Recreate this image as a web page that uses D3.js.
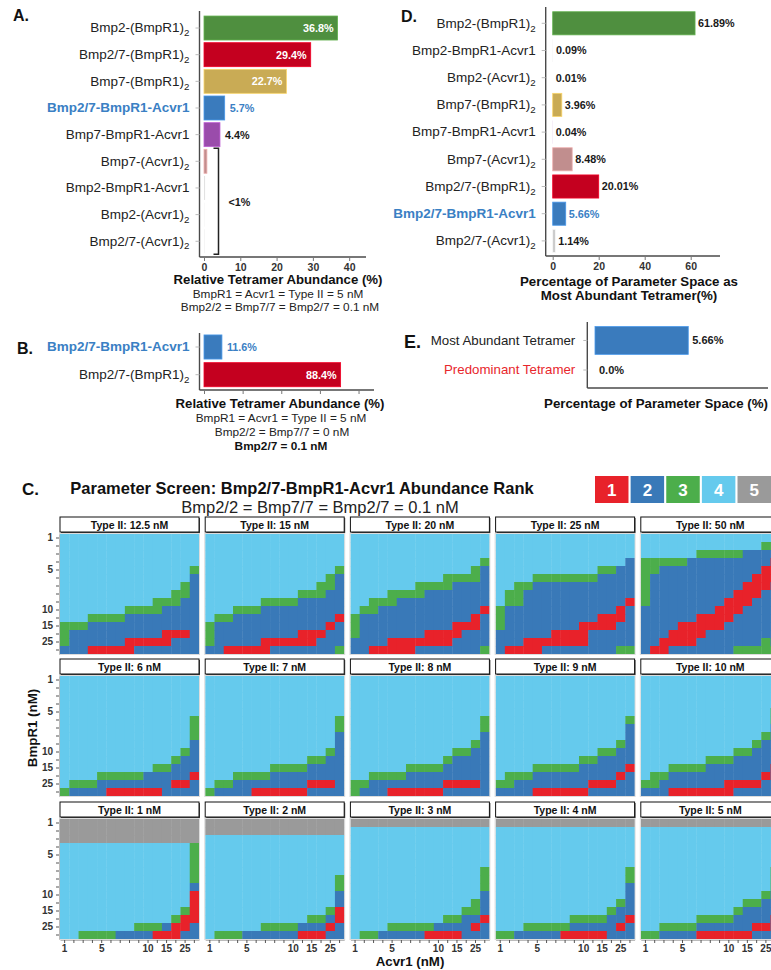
<!DOCTYPE html>
<html>
<head>
<meta charset="utf-8">
<script src="https://cdn.jsdelivr.net/npm/d3@7"></script>
<style>
  body { margin: 0; background: #fff; }
  svg { display: block; font-family: "Liberation Sans", Arial, Helvetica, sans-serif; }
</style>
</head>
<body>
<svg id="fig" width="771" height="970"></svg>
<script>
// ---------------- data ----------------
// Panel A: relative tetramer abundance (%), all ligands at 0.1 nM
const tetramersA = ["Bmp2-(BmpR1)_2", "Bmp2/7-(BmpR1)_2", "Bmp7-(BmpR1)_2", "Bmp2/7-BmpR1-Acvr1",
  "Bmp7-BmpR1-Acvr1", "Bmp7-(Acvr1)_2", "Bmp2-BmpR1-Acvr1", "Bmp2-(Acvr1)_2", "Bmp2/7-(Acvr1)_2"];
const abundanceA = [36.8, 29.4, 22.7, 5.7, 4.4, 0.8, 0.3, 0.1, 0.05];
const ticksA = [0, 10, 20, 30, 40];

// Panel B: only heterodimer present
const tetramersB = ["Bmp2/7-BmpR1-Acvr1", "Bmp2/7-(BmpR1)_2"];
const abundanceB = [11.6, 88.4];
const ticksB = [0, 25, 50, 75, 100];

// Panel D: share of parameter space where each tetramer is most abundant (%)
const tetramersD = ["Bmp2-(BmpR1)_2", "Bmp2-BmpR1-Acvr1", "Bmp2-(Acvr1)_2", "Bmp7-(BmpR1)_2",
  "Bmp7-BmpR1-Acvr1", "Bmp7-(Acvr1)_2", "Bmp2/7-(BmpR1)_2", "Bmp2/7-BmpR1-Acvr1", "Bmp2/7-(Acvr1)_2"];
const spaceD = [61.89, 0.09, 0.01, 3.96, 0.04, 8.48, 20.01, 5.66, 1.14];
const ticksD = [0, 20, 40, 60];

// Panel E
const categoriesE = ["Most Abundant Tetramer", "Predominant Tetramer"];
const spaceE = [5.66, 0.0];

// Panel C: abundance rank of Bmp2/7-BmpR1-Acvr1 over BmpR1 (rows) x Acvr1 (columns)
const levels = [1, 2, 3, 4, 5, 6, 7, 8, 9, 10, 12.5, 15, 20, 25, 50];
const levelTicks = [1, 5, 10, 15, 25];
const typeII = [12.5, 15, 20, 25, 50, 6, 7, 8, 9, 10, 1, 2, 3, 4, 5];
const ranks = [1, 2, 3, 4, 5];
const rankGrids = [
  [ // 12.5 nM
    "444444444444444","444444444444444","444444444444444","444444444444444","444444444444443",
    "444444444444442","444444444444432","444444444444332","444444444433322","444444433332222",
    "444333322222222","333222222222222","322222222221112","322222211111222","222111112222222"],
  [ // 15 nM
    "444444444444444","444444444444444","444444444444444","444444444444444","444444444444443",
    "444444444444432","444444444444332","444444444433322","444444333322222","444333222222222",
    "433222222222221","322222222222212","322222222211122","322222111111222","221111122222223"],
  [ // 20 nM
    "444444444444444","444444444444444","444444444444444","444444444444443","444444444444432",
    "444444444433332","444444433332222","444433332222222","443332222222222","433222222222221",
    "322222222222212","322222222221112","322222221111222","222211111112222","221111122222223"],
  [ // 25 nM
    "444444444444444","444444444444444","444444444444444","444444444444442","444444444443322",
    "444433333332222","443322222222222","433222222222222","433222222222221","322222222222212",
    "322222222221112","322222222111122","222222111122222","222111111122222","211112222222233"],
  [ // 50 nM
    "444444444444444","444444444444433","444444333332222","333332222222221","332222222222211",
    "322222222222111","322222222221112","322222222211122","322222222111222","222222221112222",
    "222222111122222","222211111222222","222111122222222","221111222222232","211222222233333"],
  [ // 6 nM
    "444444444444444","444444444444444","444444444444444","444444444444444","444444444444444",
    "444444444444443","444444444444443","444444444444443","444444444444442","444444444444432",
    "444444444444322","444444444433222","444433333222221","433322222222112","322221111112222"],
  [ // 7 nM
    "444444444444444","444444444444444","444444444444444","444444444444444","444444444444444",
    "444444444444443","444444444444443","444444444444442","444444444444442","444444444444432",
    "444444444443322","444444433332222","444333322222222","433222222221112","322221111112222"],
  [ // 8 nM
    "444444444444444","444444444444444","444444444444444","444444444444444","444444444444444",
    "444444444444443","444444444444443","444444444444442","444444444444432","444444444443322",
    "444444444432222","444444333322222","443333222222222","332222222211112","322211111122222"],
  [ // 9 nM
    "444444444444444","444444444444444","444444444444444","444444444444444","444444444444444",
    "444444444444443","444444444444442","444444444444442","444444444444432","444444444443322",
    "444444444332222","444433333222221","433322222222212","332222222211122","222211111122222"],
  [ // 10 nM
    "444444444444444","444444444444444","444444444444444","444444444444444","444444444444443",
    "444444444444443","444444444444442","444444444444432","444444444444322","444444444433222",
    "444444433322222","444333322222221","433222222222212","332222222111122","222111111122222"],
  [ // 1 nM
    "555555555555555","555555555555555","555555555555555","444444444444443","444444444444443",
    "444444444444443","444444444444443","444444444444443","444444444444442","444444444444441",
    "444444444444441","444444444444431","444444444444311","444444443332112","443333222211122"],
  [ // 2 nM
    "555555555555555","555555555555555","444444444444444","444444444444444","444444444444444",
    "444444444444444","444444444444444","444444444444443","444444444444443","444444444444442",
    "444444444444442","444444444444431","444444444443321","444444333322212","433322222211122"],
  [ // 3 nM
    "555555555555555","444444444444444","444444444444444","444444444444444","444444444444444",
    "444444444444444","444444444444443","444444444444443","444444444444443","444444444444442",
    "444444444444432","444444444444332","444444444433221","444433333222212","433222221111222"],
  [ // 4 nM
    "555555555555555","444444444444444","444444444444444","444444444444444","444444444444444",
    "444444444444444","444444444444443","444444444444443","444444444444442","444444444444442",
    "444444444444432","444444444444322","444444443333221","444333332222212","332222211111222"],
  [ // 5 nM
    "555555555555555","444444444444444","444444444444444","444444444444444","444444444444444",
    "444444444444444","444444444444443","444444444444443","444444444444443","444444444444432",
    "444444444443322","444444444432222","444444333322221","443333222222112","332222111111222"]
];

// ---------------- styles ----------------
const tetColor = {
  "Bmp2-(BmpR1)_2": "#4f8f3f", "Bmp2/7-(BmpR1)_2": "#c4001f", "Bmp7-(BmpR1)_2": "#c9ab55",
  "Bmp2/7-BmpR1-Acvr1": "#3a7bbd", "Bmp7-BmpR1-Acvr1": "#9a4cab", "Bmp7-(Acvr1)_2": "#c18e8e",
  "Bmp2-BmpR1-Acvr1": "#e2e2e2", "Bmp2-(Acvr1)_2": "#eeeeee", "Bmp2/7-(Acvr1)_2": "#c8c8c8"
};
const rankColor = { 1: "#e8222a", 2: "#3979b8", 3: "#4cae4b", 4: "#65caed", 5: "#9a9a9a" };
const focus = "Bmp2/7-BmpR1-Acvr1";
const focusBlue = "#3a80c4";
const axisGrey = "#4a4a4a";

const svg = d3.select("#fig");

// label with a trailing subscript written as "_2"
function nameText(sel, name) {
  const [main, sub] = name.split("_");
  sel.text(null);
  sel.append("tspan").text(main);
  if (sub) sel.append("tspan").attr("font-size", "0.72em").attr("dy", "0.4em").text(sub);
}

function panelLetter(txt, x, y, size) {
  svg.append("text").attr("x", x).attr("y", y).attr("font-size", size)
    .attr("font-weight", "bold").attr("fill", "#111").text(txt);
}

// generic horizontal bar panel
function barPanel(opt) {
  const g = svg.append("g");
  const x = d3.scaleLinear().domain(opt.xDomain).range(opt.xRange);
  const y = d3.scaleBand().domain(opt.names).range(opt.yRange)
    .paddingInner(opt.pad).paddingOuter(opt.pad / 2);

  // axis lines
  g.append("line").attr("x1", opt.axisX).attr("x2", opt.axisX)
    .attr("y1", opt.axisTop).attr("y2", opt.axisY)
    .attr("stroke", axisGrey).attr("stroke-width", 1.4);
  g.append("line").attr("x1", opt.axisX).attr("x2", opt.axisEnd)
    .attr("y1", opt.axisY).attr("y2", opt.axisY)
    .attr("stroke", axisGrey).attr("stroke-width", 1.4);

  // x ticks
  const xa = g.append("g").attr("transform", `translate(0,${opt.axisY})`)
    .call(d3.axisBottom(x).tickValues(opt.ticks).tickSize(4).tickSizeOuter(0)
      .tickFormat(opt.tickLabels ? d3.format("d") : () => ""));
  xa.select(".domain").remove();
  xa.selectAll(".tick line").attr("stroke", "#777");
  xa.selectAll(".tick text").attr("font-size", 10.5).attr("font-weight", "bold")
    .attr("fill", "#333").attr("font-family", null);

  // y labels
  const ya = g.append("g").attr("transform", `translate(${opt.axisX},0)`)
    .call(d3.axisLeft(y).tickSize(4).tickPadding(opt.labelPad || 6).tickSizeOuter(0));
  ya.select(".domain").remove();
  ya.selectAll(".tick line").attr("stroke", "#bbb");
  ya.selectAll(".tick text").attr("font-family", null)
    .attr("font-size", opt.labelSize || 13.5)
    .attr("fill", d => opt.labelColor ? opt.labelColor(d) : (d === focus ? focusBlue : "#222"))
    .attr("font-weight", d => (d === focus ? "bold" : "normal"))
    .each(function (d) { nameText(d3.select(this), d); });

  // bars (thin outline only where the bar is wide enough to carry it)
  const rows = opt.names.map((n, i) => ({ name: n, v: opt.values[i] }));
  g.selectAll("rect.bar").data(rows).join("rect").attr("class", "bar")
    .attr("x", x(0)).attr("y", d => y(d.name))
    .attr("width", d => Math.max(0, x(d.v) - x(0))).attr("height", y.bandwidth())
    .attr("fill", d => opt.color(d.name))
    .attr("stroke", d => (x(d.v) - x(0) > 2 ? d3.color(opt.color(d.name)).brighter(0.6) : "none"))
    .attr("stroke-width", 0.8);

  // value labels
  g.selectAll("text.val").data(rows.filter(opt.showLabel)).join("text").attr("class", "val")
    .attr("x", d => opt.inside(d) ? x(d.v) - 4 : x(d.v) + (opt.gap || 5))
    .attr("y", d => y(d.name) + y.bandwidth() / 2).attr("dy", "0.36em")
    .attr("text-anchor", d => opt.inside(d) ? "end" : "start")
    .attr("font-size", opt.valSize || 11).attr("font-weight", "bold")
    .attr("fill", d => opt.inside(d) ? "#fff" : (d.name === focus ? focusBlue : "#1a1a1a"))
    .text(d => opt.format(d.v));
  return { g, x, y };
}

// ---------------- Panel A ----------------
panelLetter("A.", 13, 21, 16);
const A = barPanel({
  names: tetramersA, values: abundanceA, xDomain: [0, 44], xRange: [204, 363.7],
  yRange: [14.7, 254.6], pad: 0.1, axisX: 199.5, axisTop: 11, axisY: 257, axisEnd: 366,
  ticks: ticksA, tickLabels: true, color: n => tetColor[n],
  showLabel: d => d.v >= 1, inside: d => d.v > 15, format: v => v.toFixed(1) + "%", valSize: 10.8
});
// bracket grouping the sub-1% tetramers
{
  const small = tetramersA.filter((n, i) => abundanceA[i] < 1);
  const top = A.y(small[0]) - 1, bot = A.y(small[small.length - 1]) + A.y.bandwidth() + 1;
  const bx = A.x(0) + 14.5;
  A.g.append("path").attr("d", `M${bx - 5},${top}H${bx}V${bot}H${bx - 5}`)
    .attr("fill", "none").attr("stroke", "#222").attr("stroke-width", 1.5);
  A.g.append("text").attr("x", bx + 10).attr("y", (top + bot) / 2 + 1).attr("dy", "0.36em")
    .attr("font-size", 10.8).attr("font-weight", "bold").attr("fill", "#1a1a1a").text("<1%");
}
svg.append("text").attr("x", 278).attr("y", 284).attr("text-anchor", "middle")
  .attr("font-size", 13.2).attr("font-weight", "bold").attr("fill", "#111")
  .text("Relative Tetramer Abundance  (%)");
svg.append("text").attr("x", 278).attr("y", 298).attr("text-anchor", "middle")
  .attr("font-size", 11.8).attr("fill", "#222").text("BmpR1  = Acvr1 = Type II = 5 nM");
svg.append("text").attr("x", 280).attr("y", 311).attr("text-anchor", "middle")
  .attr("font-size", 11.8).attr("fill", "#222").text("Bmp2/2 = Bmp7/7 = Bmp2/7 = 0.1 nM");

// ---------------- Panel D ----------------
panelLetter("D.", 401, 22, 16);
barPanel({
  names: tetramersD, values: spaceD, xDomain: [0, 73], xRange: [552.7, 720.6],
  yRange: [9.7, 254.5], pad: 0.15, axisX: 545.7, axisTop: 7, axisY: 256, axisEnd: 720,
  ticks: ticksD, tickLabels: true, color: n => tetColor[n],
  showLabel: () => true, inside: () => false, format: v => v.toFixed(2) + "%", gap: 3, valSize: 10.8
});
svg.append("text").attr("x", 629).attr("y", 286).attr("text-anchor", "middle")
  .attr("font-size", 13.3).attr("font-weight", "bold").attr("fill", "#111")
  .text("Percentage of Parameter Space as");
svg.append("text").attr("x", 629).attr("y", 300).attr("text-anchor", "middle")
  .attr("font-size", 13.3).attr("font-weight", "bold").attr("fill", "#111")
  .text("Most Abundant  Tetramer(%)");

// ---------------- Panel B ----------------
panelLetter("B.", 17, 354, 16);
barPanel({
  names: tetramersB, values: abundanceB, xDomain: [0, 110], xRange: [204, 374],
  yRange: [333.15, 388.55], pad: 0.13, axisX: 199.5, axisTop: 333, axisY: 390, axisEnd: 374,
  ticks: ticksB, tickLabels: false, color: n => tetColor[n],
  showLabel: () => true, inside: d => d.v > 50, format: v => v.toFixed(1) + "%", valSize: 10.8
});
svg.append("text").attr("x", 280).attr("y", 408).attr("text-anchor", "middle")
  .attr("font-size", 13.2).attr("font-weight", "bold").attr("fill", "#111")
  .text("Relative Tetramer Abundance  (%)");
svg.append("text").attr("x", 281).attr("y", 422).attr("text-anchor", "middle")
  .attr("font-size", 11.8).attr("fill", "#222").text("BmpR1  = Acvr1 = Type II = 5 nM");
svg.append("text").attr("x", 282).attr("y", 436).attr("text-anchor", "middle")
  .attr("font-size", 11.8).attr("fill", "#222").text("Bmp2/2 = Bmp7/7 = 0 nM");
svg.append("text").attr("x", 281).attr("y", 450).attr("text-anchor", "middle")
  .attr("font-size", 11.8).attr("font-weight", "bold").attr("fill", "#111").text("Bmp2/7 = 0.1 nM");

// ---------------- Panel E ----------------
panelLetter("E.", 404, 348, 18);
barPanel({
  names: categoriesE, values: spaceE, xDomain: [0, 10.5], xRange: [595, 768],
  yRange: [325.7, 384.8], pad: 0.06, axisX: 587.3, axisTop: 322, axisY: 388, axisEnd: 768,
  ticks: [], tickLabels: false, labelSize: 13.3, labelPad: 8,
  labelColor: d => (d === "Predominant Tetramer" ? "#e8262c" : "#222"),
  color: () => tetColor[focus],
  showLabel: () => true, inside: () => false,
  format: v => (v === 0 ? v.toFixed(1) : v.toFixed(2)) + "%", gap: 4, valSize: 11
});
svg.append("text").attr("x", 656).attr("y", 408).attr("text-anchor", "middle")
  .attr("font-size", 13.3).attr("font-weight", "bold").attr("fill", "#111")
  .text("Percentage of Parameter Space (%)");

// ---------------- Panel C ----------------
panelLetter("C.", 22, 495, 17);
svg.append("text").attr("x", 302).attr("y", 494).attr("text-anchor", "middle")
  .attr("font-size", 16.5).attr("font-weight", "bold").attr("fill", "#111")
  .text("Parameter Screen: Bmp2/7-BmpR1-Acvr1 Abundance Rank");
svg.append("text").attr("x", 320).attr("y", 513).attr("text-anchor", "middle")
  .attr("font-size", 16.5).attr("fill", "#222").text("Bmp2/2 = Bmp7/7 = Bmp2/7 = 0.1 nM");

// rank legend
const legX = d3.scaleBand().domain(ranks).range([595, 771]).paddingInner(0.06);
const leg = svg.append("g");
leg.selectAll("rect").data(ranks).join("rect")
  .attr("x", d => legX(d)).attr("y", 476).attr("width", legX.bandwidth()).attr("height", 27)
  .attr("fill", d => rankColor[d]);
leg.selectAll("text").data(ranks).join("text")
  .attr("x", d => legX(d) + legX.bandwidth() / 2).attr("y", 490).attr("dy", "0.36em")
  .attr("text-anchor", "middle").attr("font-size", 17).attr("font-weight", "bold")
  .attr("fill", "#fff").text(d => d);

// facet grid
const panelX = [60, 205.2, 350.4, 495.6, 640.8], panelW = 139;
const panelY = [534, 676, 819], panelH = 120;
const heat = svg.append("g");

typeII.forEach((t, k) => {
  const c = k % 5, r = Math.floor(k / 5);
  const x = d3.scaleBand().domain(levels).range([panelX[c], panelX[c] + panelW]);
  const y = d3.scaleBand().domain(levels).range([panelY[r], panelY[r] + panelH]);
  const cells = [];
  rankGrids[k].forEach((line, ri) => line.split("").forEach((ch, ci) =>
    cells.push({ bmpr1: levels[ri], acvr1: levels[ci], rank: +ch })));
  const p = heat.append("g");
  p.selectAll("rect").data(cells).join("rect")
    .attr("x", d => x(d.acvr1)).attr("y", d => y(d.bmpr1))
    .attr("width", x.bandwidth() + 0.4).attr("height", y.bandwidth() + 0.4)
    .attr("fill", d => rankColor[d.rank]);
  p.append("rect").attr("x", panelX[c] - 0.5).attr("y", panelY[r] - 0.5)
    .attr("width", panelW + 1).attr("height", panelH + 1)
    .attr("fill", "none").attr("stroke", "#dcdcdc").attr("stroke-width", 1);

  // strip
  const sy = panelY[r] - 17;
  p.append("rect").attr("x", panelX[c] + 1).attr("y", sy + 1).attr("width", panelW).attr("height", 15)
    .attr("fill", "#444");
  p.append("rect").attr("x", panelX[c]).attr("y", sy).attr("width", panelW).attr("height", 15)
    .attr("fill", "#fff").attr("stroke", "#111").attr("stroke-width", 1);
  p.append("text").attr("x", panelX[c] + panelW / 2).attr("y", sy + 7.8).attr("dy", "0.36em")
    .attr("text-anchor", "middle").attr("font-size", 10.5).attr("font-weight", "bold")
    .attr("fill", "#111").text(`Type II: ${t} nM`);

  const fmt = d => (levelTicks.includes(d) ? d : "");
  if (c === 0) {
    const ax = p.append("g").attr("transform", `translate(${panelX[c] - 1},0)`)
      .call(d3.axisLeft(y).tickSize(3).tickPadding(3).tickFormat(fmt).tickSizeOuter(0));
    ax.select(".domain").attr("stroke", "#bbb");
    ax.selectAll(".tick line").attr("stroke", "#555");
    ax.selectAll(".tick text").attr("font-family", null).attr("font-size", 10)
      .attr("font-weight", "bold").attr("fill", "#333");
  }
  if (r === 2) {
    const ax = p.append("g").attr("transform", `translate(0,${panelY[r] + panelH + 1})`)
      .call(d3.axisBottom(x).tickSize(3).tickPadding(2).tickFormat(fmt).tickSizeOuter(0));
    ax.select(".domain").attr("stroke", "#bbb");
    ax.selectAll(".tick line").attr("stroke", "#555");
    ax.selectAll(".tick text").attr("font-family", null).attr("font-size", 10)
      .attr("font-weight", "bold").attr("fill", "#333");
  }
});

// facet axis titles
svg.append("text").attr("transform", "translate(37,728) rotate(-90)").attr("text-anchor", "middle")
  .attr("font-size", 13.3).attr("font-weight", "bold").attr("fill", "#111").text("BmpR1 (nM)");
svg.append("text").attr("x", 410).attr("y", 966).attr("text-anchor", "middle")
  .attr("font-size", 13.3).attr("font-weight", "bold").attr("fill", "#111").text("Acvr1 (nM)");
</script>
</body>
</html>
